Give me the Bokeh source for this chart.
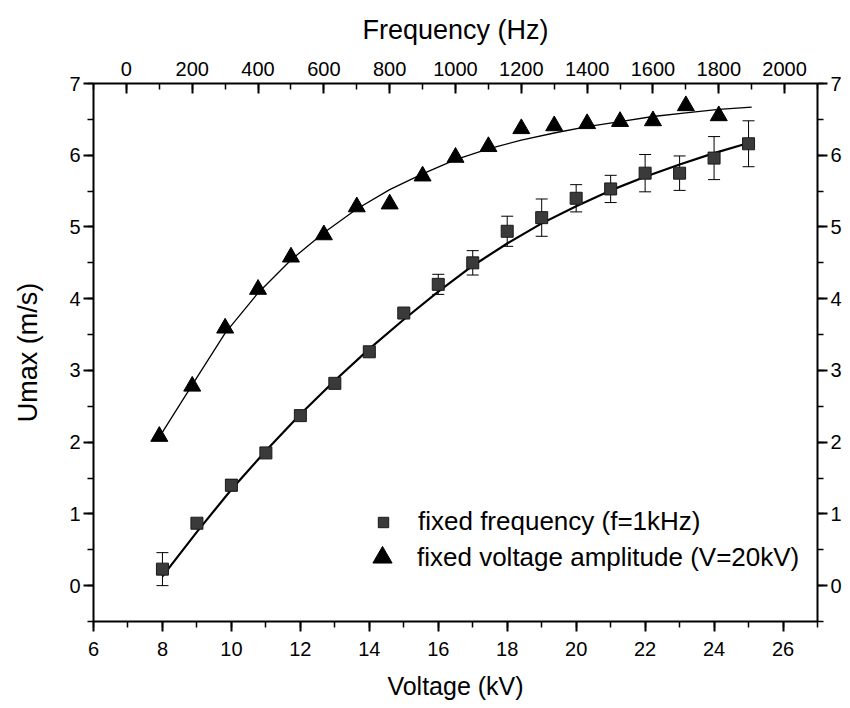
from bokeh.plotting import figure
from bokeh.models import (ColumnDataSource, Range1d, LinearAxis, SingleIntervalTicker,
                          Whisker, TeeHead, Legend, LegendItem)
from bokeh.embed import file_html
from bokeh.resources import INLINE

# ---- data ----
voltage_kv = [8, 9, 10, 11, 12, 13, 14, 15, 16, 17, 18, 19, 20, 21, 22, 23, 24, 25]
umax_voltage = [0.23, 0.87, 1.40, 1.85, 2.37, 2.82, 3.26, 3.80, 4.20, 4.50, 4.94, 5.13,
                5.40, 5.53, 5.75, 5.75, 5.96, 6.16]
umax_voltage_err = [0.23, 0.06, 0.08, 0.05, 0.04, 0.04, 0.04, 0.04, 0.14, 0.17, 0.21, 0.26,
                    0.19, 0.19, 0.26, 0.24, 0.30, 0.32]

frequency_hz = [100, 200, 300, 400, 500, 600, 700, 800, 900, 1000, 1100, 1200, 1300, 1400,
                1500, 1600, 1700, 1800]
umax_frequency = [2.08, 2.78, 3.59, 4.13, 4.58, 4.89, 5.28, 5.32, 5.71, 5.97, 6.12, 6.37,
                  6.41, 6.44, 6.47, 6.48, 6.69, 6.55]

fit_voltage_x = [8, 9, 10, 11, 12, 13, 14, 15, 16, 17, 18, 19, 20, 21, 22, 23, 24, 25]
fit_voltage_y = [0.13, 0.75, 1.34, 1.88, 2.39, 2.86, 3.30, 3.71, 4.10, 4.46, 4.77, 5.05,
                 5.29, 5.51, 5.70, 5.87, 6.03, 6.17]

fit_frequency_x = [100, 200, 300, 400, 500, 600, 700, 800, 900, 1000, 1100, 1200, 1300,
                   1400, 1500, 1600, 1700, 1800, 1900]
fit_frequency_y = [2.07, 2.80, 3.52, 4.08, 4.54, 4.92, 5.25, 5.52, 5.74, 5.94, 6.09, 6.21,
                   6.31, 6.40, 6.47, 6.54, 6.59, 6.64, 6.67]

label_voltage = "fixed frequency (f=1kHz)"
label_frequency = "fixed voltage amplitude (V=20kV)"

FONT = "Liberation Sans"

p = figure(width=850, height=708, output_backend="svg", toolbar_location=None,
           x_range=Range1d(6, 27), y_range=Range1d(-0.5, 7),
           x_axis_location=None, y_axis_location=None,
           min_border_left=93, min_border_right=33, min_border_top=83, min_border_bottom=87,
           background_fill_color="white", border_fill_color="white")
p.extra_x_ranges = {"freq": Range1d(-100, 2100)}
p.outline_line_color = None
p.xgrid.grid_line_color = None
p.ygrid.grid_line_color = None


def style(ax, tin, tout, lstand, tstand, title_size="25px"):
    ax.axis_line_color = "black"
    ax.axis_line_width = 2
    ax.major_tick_line_color = "black"
    ax.major_tick_line_width = 2
    ax.minor_tick_line_color = "black"
    ax.minor_tick_line_width = 1.5
    ax.major_tick_in = tin
    ax.major_tick_out = tout
    ax.minor_tick_in = int(tin * 0.6)
    ax.minor_tick_out = int(tout * 0.6)
    ax.major_label_text_font = FONT
    ax.major_label_text_font_size = "20px"
    ax.major_label_text_color = "black"
    ax.axis_label_text_font = FONT
    ax.axis_label_text_font_size = title_size
    ax.axis_label_text_font_style = "normal"
    ax.axis_label_text_color = "black"
    ax.major_label_standoff = lstand
    ax.axis_label_standoff = tstand


left = LinearAxis(ticker=SingleIntervalTicker(interval=1, num_minor_ticks=2),
                  axis_label="Umax (m/s)")
style(left, 0, 10, 3, 23, "27px")
p.add_layout(left, "left")

right = LinearAxis(ticker=SingleIntervalTicker(interval=1, num_minor_ticks=2))
style(right, 0, 10, 3, 0)
p.add_layout(right, "right")

bottom = LinearAxis(ticker=SingleIntervalTicker(interval=2, num_minor_ticks=2),
                    axis_label="Voltage (kV)")
style(bottom, 0, 10, 10, 13, "25px")
p.add_layout(bottom, "below")

top = LinearAxis(x_range_name="freq",
                 ticker=SingleIntervalTicker(interval=200, num_minor_ticks=2),
                 axis_label="Frequency (Hz)")
style(top, 10, 0, 8, 14, "27px")
p.add_layout(top, "above")

src_v = ColumnDataSource(dict(
    x=voltage_kv, y=umax_voltage,
    upper=[v + e for v, e in zip(umax_voltage, umax_voltage_err)],
    lower=[v - e for v, e in zip(umax_voltage, umax_voltage_err)],
))

p.add_layout(Whisker(source=src_v, base="x", upper="upper", lower="lower",
                     line_color="black", line_width=1,
                     upper_head=TeeHead(size=12, line_width=1, line_color="black"),
                     lower_head=TeeHead(size=12, line_width=1, line_color="black")))

p.line(fit_voltage_x, fit_voltage_y, line_color="black", line_width=2.2)
sq = p.scatter("x", "y", source=src_v, marker="square", size=12,
               fill_color="#3a3a3a", line_color="#1a1a1a", line_width=1)

p.line(fit_frequency_x, fit_frequency_y, x_range_name="freq",
       line_color="black", line_width=1.3)
tri = p.scatter(frequency_hz, umax_frequency, x_range_name="freq", marker="triangle",
                size=17, fill_color="black", line_color="black")


def mk_legend(item_label, rend, gw, gh, loc, standoff):
    lg = Legend(items=[LegendItem(label=item_label, renderers=[rend])], location=loc,
                glyph_width=gw, glyph_height=gh, label_height=gh, label_width=10,
                label_standoff=standoff, padding=0, margin=0, spacing=0,
                border_line_color=None, background_fill_alpha=0,
                label_text_font=FONT, label_text_font_size="26px",
                label_text_color="black")
    return lg


p.add_layout(mk_legend(label_voltage, sq, 26, 30, (277, 84), 22))
p.add_layout(mk_legend(label_frequency, tri, 48, 48, (265, 40), 11))

open("out.html", "w").write(file_html(p, INLINE))
